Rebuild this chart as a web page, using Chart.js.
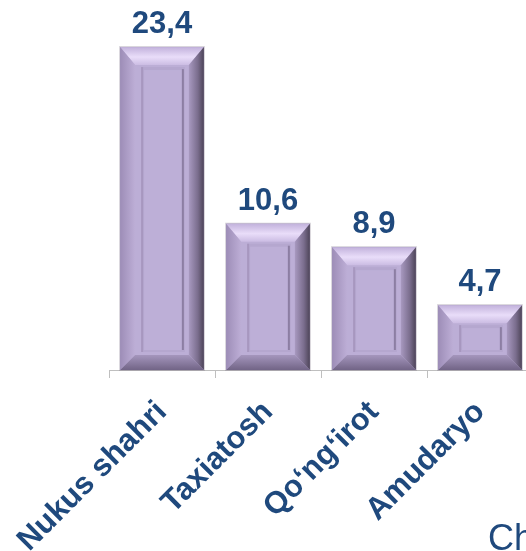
<!DOCTYPE html>
<html>
<head>
<meta charset="utf-8">
<script src="https://cdn.jsdelivr.net/npm/chart.js@4/dist/chart.umd.min.js"></script>
<style>
html, body { margin: 0; padding: 0; background: #fff; overflow: hidden; }
#wrap { position: relative; width: 526px; height: 551px; overflow: hidden; }
#box { position: absolute; left: 0; top: 0; width: 545px; height: 551px; }
#ch { position: absolute; left: 488px; top: 517px; font: 36px "Liberation Sans", Arial, sans-serif; color: #1f497d; white-space: nowrap; }
</style>
</head>
<body>
<div id="wrap">
  <div id="box"><canvas id="canvas" width="545" height="551"></canvas></div>
  <div id="ch">Ch</div>
</div>
<script>
var labels = ["Nukus shahri", "Taxiatosh", "Qo‘ng‘irot", "Amudaryo"];
var values = [23.4, 10.6, 8.9, 4.7];
var valueText = ["23,4", "10,6", "8,9", "4,7"];

var textBlue = '#1f497d';

// beveled bars, drawn over the plain bar elements
var bevelPlugin = {
  id: 'bevel',
  afterDatasetsDraw: function(chart) {
    var ctx = chart.ctx;
    var meta = chart.getDatasetMeta(0);
    meta.data.forEach(function(bar) {
      var l = bar.x - bar.width / 2, r = bar.x + bar.width / 2;
      var t = bar.y, b = bar.base;
      var s = 15, st = 18, sb = 15;
      ctx.save();

      ctx.fillStyle = '#bcaed6';
      ctx.fillRect(l, t, r - l, b - t);

      // top
      var g = ctx.createLinearGradient(0, t, 0, t + st);
      g.addColorStop(0, '#c2b2dc');
      g.addColorStop(0.55, '#e9ddf9');
      g.addColorStop(1, '#cbbce3');
      ctx.fillStyle = g;
      ctx.beginPath();
      ctx.moveTo(l, t); ctx.lineTo(r, t); ctx.lineTo(r - s, t + st); ctx.lineTo(l + s, t + st);
      ctx.closePath(); ctx.fill();

      // left
      g = ctx.createLinearGradient(l, 0, l + s, 0);
      g.addColorStop(0, '#9d8db7');
      g.addColorStop(1, '#bdaed6');
      ctx.fillStyle = g;
      ctx.beginPath();
      ctx.moveTo(l, t); ctx.lineTo(l + s, t + st); ctx.lineTo(l + s, b - sb); ctx.lineTo(l, b);
      ctx.closePath(); ctx.fill();

      // right
      g = ctx.createLinearGradient(r - s, 0, r, 0);
      g.addColorStop(0, '#a899c0');
      g.addColorStop(0.6, '#7a6d8d');
      g.addColorStop(1, '#4d4458');
      ctx.fillStyle = g;
      ctx.beginPath();
      ctx.moveTo(r, t); ctx.lineTo(r, b); ctx.lineTo(r - s, b - sb); ctx.lineTo(r - s, t + st);
      ctx.closePath(); ctx.fill();

      // bottom
      g = ctx.createLinearGradient(0, b - sb, 0, b);
      g.addColorStop(0, '#a596bd');
      g.addColorStop(1, '#716486');
      ctx.fillStyle = g;
      ctx.beginPath();
      ctx.moveTo(l, b); ctx.lineTo(r, b); ctx.lineTo(r - s, b - sb); ctx.lineTo(l + s, b - sb);
      ctx.closePath(); ctx.fill();

      // inner panel
      var il = l + 21, ir = r - 19, it = t + 20, ib = b - 18;
      ctx.fillStyle = '#b5a7cf';
      ctx.fillRect(il, it, ir - il, ib - it);
      ctx.fillStyle = '#bdafd7';
      ctx.fillRect(il + 3, it + 3, ir - il - 6, ib - it - 5);
      ctx.fillStyle = '#8c7ea3';
      ctx.fillRect(ir - 3, it + 2, 2, ib - it - 4);
      ctx.fillStyle = '#a797bf';
      ctx.fillRect(il, it, 2, ib - it);

      ctx.strokeStyle = 'rgba(120,110,130,0.3)';
      ctx.lineWidth = 1;
      ctx.strokeRect(l - 0.5, t - 0.5, r - l + 1, b - t + 1);
      ctx.restore();
    });
  }
};

// value labels above the bars
var valuePlugin = {
  id: 'values',
  afterDatasetsDraw: function(chart) {
    var ctx = chart.ctx;
    var meta = chart.getDatasetMeta(0);
    ctx.save();
    ctx.font = 'bold 31px "Liberation Sans", Arial, sans-serif';
    ctx.fillStyle = textBlue;
    ctx.textAlign = 'center';
    ctx.textBaseline = 'alphabetic';
    meta.data.forEach(function(bar, i) {
      ctx.fillText(valueText[i], bar.x, bar.y - 14);
    });
    ctx.restore();
  }
};

var ctx = document.getElementById('canvas').getContext('2d');
var myChart = new Chart(ctx, {
  type: 'bar',
  data: {
    labels: labels,
    datasets: [{
      data: values,
      backgroundColor: '#bcaed6',
      borderWidth: 0,
      barPercentage: 0.79,
      categoryPercentage: 1
    }]
  },
  options: {
    responsive: false,
    animation: false,
    events: [],
    layout: { padding: { left: 109, right: 12, top: 25, bottom: 0 } },
    plugins: { legend: { display: false }, tooltip: { enabled: false } },
    scales: {
      x: {
        afterFit: function(scale) {
          scale.height = 181;
          scale.paddingLeft = 0;
          scale.paddingRight = 0;
        },
        grid: { drawOnChartArea: false, tickLength: 8, color: '#bfbfbf', lineWidth: 1 },
        border: { color: '#bfbfbf', width: 1 },
        ticks: {
          autoSkip: false,
          minRotation: 45,
          maxRotation: 45,
          padding: 16,
          color: textBlue,
          font: { family: '"Liberation Sans", Arial, sans-serif', size: 31, weight: 'bold' }
        }
      },
      y: {
        display: false,
        min: 0,
        max: 25
      }
    }
  },
  plugins: [bevelPlugin, valuePlugin]
});
</script>
</body>
</html>
